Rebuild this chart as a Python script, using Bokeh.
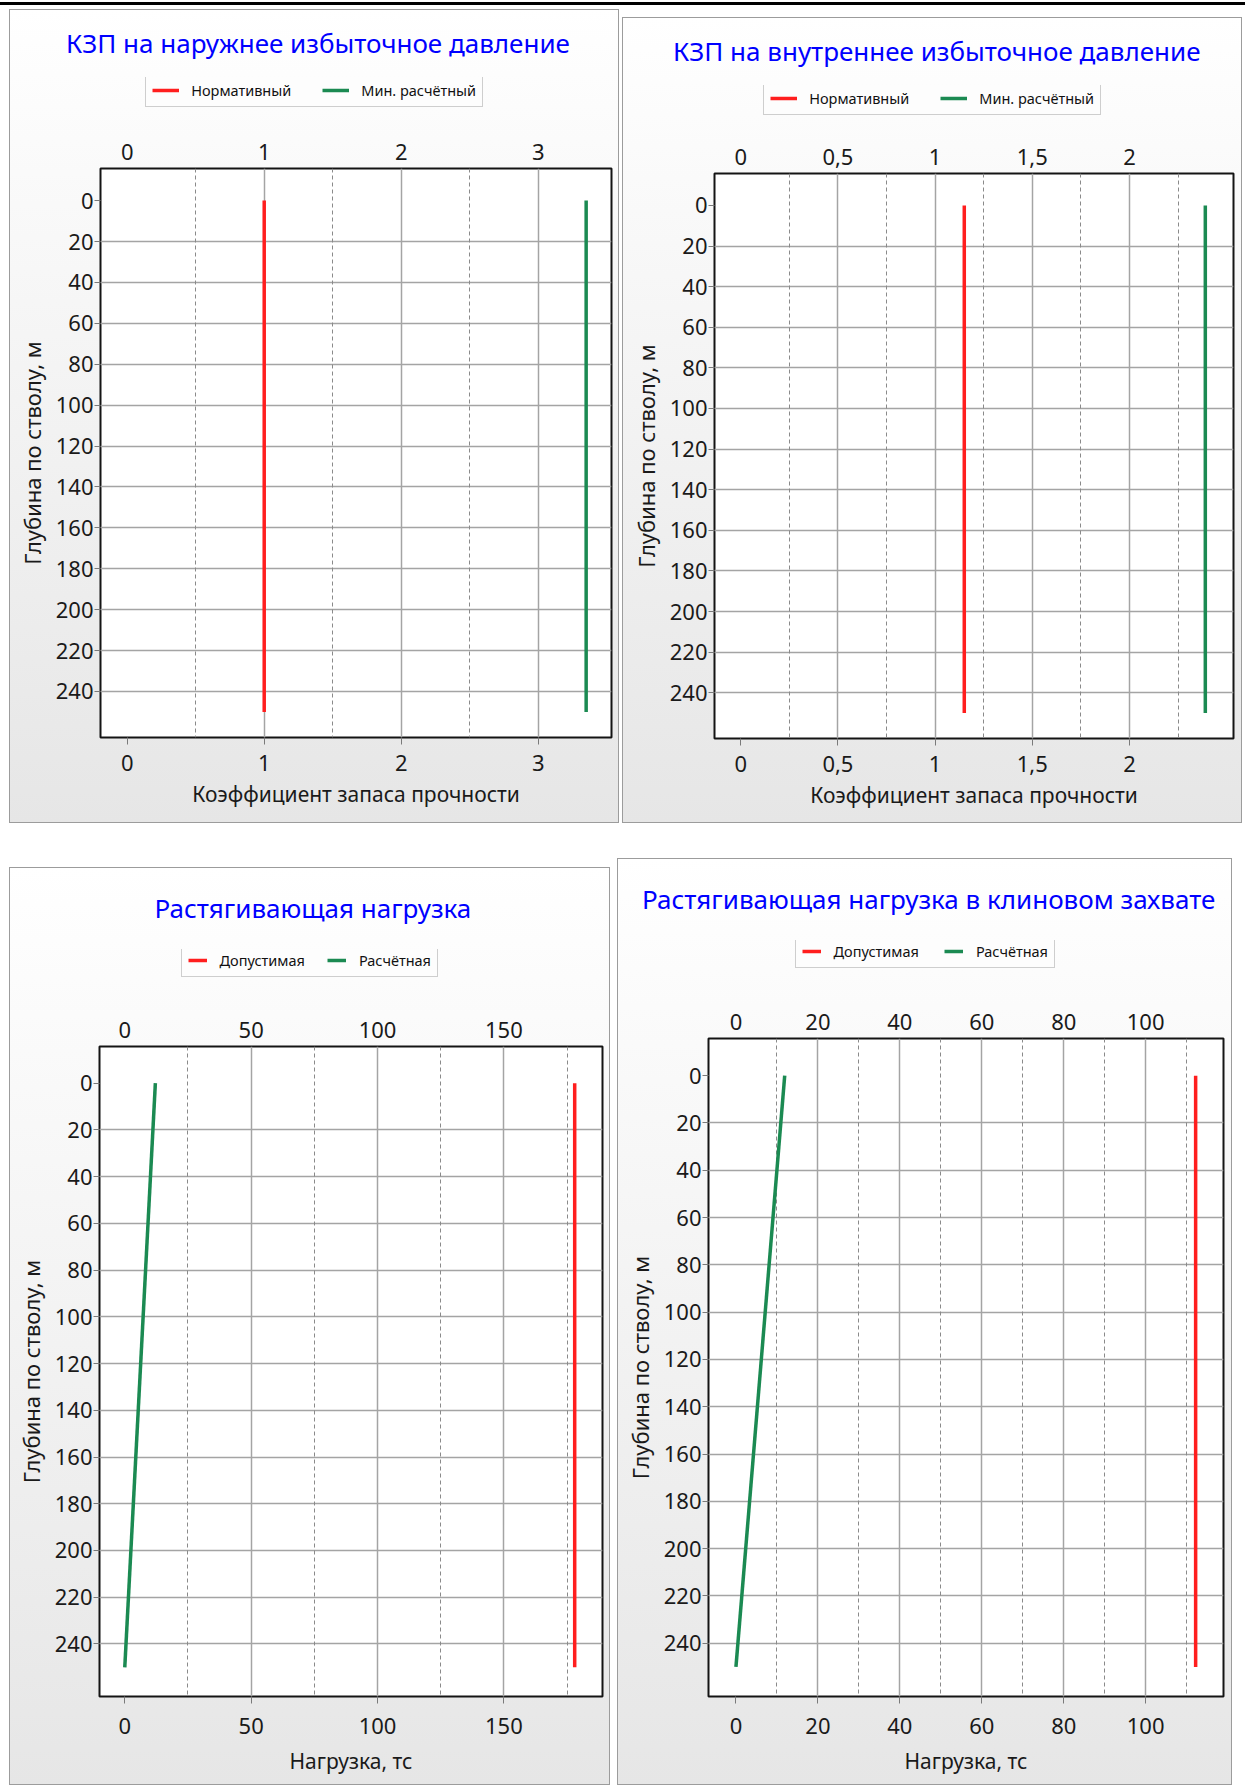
from bokeh.plotting import figure
from bokeh.models import (Range1d, LinearAxis, FixedTicker, Grid, Legend,
                          LegendItem, Title, Div)
from bokeh.layouts import row, column
from bokeh.embed import file_html
from bokeh.resources import INLINE

# ---------------- data ----------------
depth = [0, 250]                      # глубина по стволу, м
depth_ticks = [0, 20, 40, 60, 80, 100, 120, 140, 160, 180, 200, 220, 240]
y_label = "Глубина по стволу, м"

p1_title = "КЗП на наружнее избыточное давление"
p1_names = ["Нормативный", "Мин. расчётный"]
p1_norm = [1.0, 1.0]
p1_min = [3.35, 3.35]
p1_xticks = [0, 1, 2, 3]
p1_xlabel = "Коэффициент запаса прочности"

p2_title = "КЗП на внутреннее избыточное давление"
p2_names = ["Нормативный", "Мин. расчётный"]
p2_norm = [1.15, 1.15]
p2_min = [2.39, 2.39]
p2_xticks = [0, 0.5, 1, 1.5, 2]
p2_xtick_text = {0.5: "0,5", 1.5: "1,5"}
p2_xlabel = "Коэффициент запаса прочности"

p3_title = "Растягивающая нагрузка"
p3_names = ["Допустимая", "Расчётная"]
p3_allow = [178.0, 178.0]
p3_calc = [12.1, 0.0]
p3_xticks = [0, 50, 100, 150]
p3_xlabel = "Нагрузка, тс"

p4_title = "Растягивающая нагрузка в клиновом захвате"
p4_names = ["Допустимая", "Расчётная"]
p4_allow = [112.2, 112.2]
p4_calc = [11.9, 0.0]
p4_xticks = [0, 20, 40, 60, 80, 100]
p4_xlabel = "Нагрузка, тс"

# ---------------- style / layout ----------------
FONT = "Noto Sans"
RED = "#ff1e1e"
GREEN = "#1b8a52"
TXT = "#1a1a1a"
GRID_SOLID = "#a4a4a4"
GRID_DASH = "#8a8a8a"

panels = [
    dict(title=p1_title, names=p1_names, series=[p1_norm, p1_min], colors=[RED, GREEN],
         xticks=p1_xticks, xover={}, xlabel=p1_xlabel,
         xr=(-0.195, 3.535), solid=[1, 2, 3], dash=[0.5, 1.5, 2.5],
         w=610, ht=110, hm=704, ml=91, mr=8, mt=49, mb=86, margin=(4, 0, 0, 9),
         toff=-34.5, tst=30, lpos=(45.2, 12.5), gw=27, lst=12, lsp=31,
         bst=10, als=6),
    dict(title=p2_title, names=p2_names, series=[p2_norm, p2_min], colors=[RED, GREEN],
         xticks=p2_xticks, xover=p2_xtick_text, xlabel=p2_xlabel,
         xr=(-0.135, 2.535), solid=[0.5, 1, 1.5, 2], dash=[0.25, 0.75, 1.25, 1.75, 2.25],
         w=620, ht=102, hm=704, ml=92, mr=9, mt=54, mb=85, margin=(12, 0, 0, 3),
         toff=-41.5, tst=30, lpos=(49.2, 4.5), gw=27, lst=12, lsp=31,
         bst=10, als=6),
    dict(title=p3_title, names=p3_names, series=[p3_allow, p3_calc], colors=[RED, GREEN],
         xticks=p3_xticks, xover={}, xlabel=p3_xlabel,
         xr=(-10.0, 189.0), solid=[50, 100, 150], dash=[25, 75, 125, 175],
         w=601, ht=130, hm=788, ml=90, mr=8, mt=49, mb=89, margin=(44, 0, 0, 9),
         toff=54.9, tst=44, lpos=(81.5, 20), gw=19, lst=13, lsp=22,
         bst=14, als=10),
    dict(title=p4_title, names=p4_names, series=[p4_allow, p4_calc], colors=[RED, GREEN],
         xticks=p4_xticks, xover={}, xlabel=p4_xlabel,
         xr=(-6.7, 119.0), solid=[20, 40, 60, 80, 100], dash=[10, 30, 50, 70, 90, 110],
         w=615, ht=130, hm=797, ml=91, mr=9, mt=50, mb=89, margin=(35, 0, 0, 7),
         toff=-66.6, tst=44, lpos=(86.5, 20.5), gw=19, lst=13, lsp=25,
         bst=14, als=10),
]


def style_axis(ax):
    ax.axis_line_color = None
    ax.minor_tick_line_color = None
    ax.major_tick_line_color = "#7a7a7a"
    ax.major_tick_in = 0
    ax.major_label_text_font = FONT
    ax.major_label_text_font_size = "22px"
    ax.major_label_text_color = TXT
    ax.axis_label_text_font = FONT
    ax.axis_label_text_font_size = "21px"
    ax.axis_label_text_font_style = "normal"
    ax.axis_label_text_color = TXT


def make_header(c):
    """Title + legend strip; its frame spans the chart's frame columns."""
    t = figure(width=c["w"], height=c["ht"], x_range=Range1d(0, 1), y_range=Range1d(0, 1),
               x_axis_location=None, y_axis_location=None,
               output_backend="svg", toolbar_location=None,
               min_border_left=c["ml"], min_border_right=c["mr"],
               min_border_top=0, min_border_bottom=0,
               background_fill_color=None, border_fill_color=None,
               outline_line_color=None)
    t.title_location = None
    for g in t.grid:
        g.visible = False
    t.extra_y_ranges = {"off": Range1d(1000, 2000)}

    items = []
    for xs, col, name in zip(c["series"], c["colors"], c["names"]):
        r = t.line(xs, depth, y_range_name="off", line_color=col, line_width=3.5)
        items.append(LegendItem(label=name, renderers=[r]))
    leg = Legend(items=items, orientation="horizontal", location=c["lpos"],
                 margin=0, padding=6, spacing=c["lsp"], label_standoff=c["lst"],
                 glyph_width=c["gw"], glyph_height=14, label_height=14,
                 label_text_font=FONT, label_text_font_size="14.5px",
                 label_text_color="#111111",
                 border_line_color="#a0a0a0", border_line_width=1,
                 background_fill_color="#fdfdfd", background_fill_alpha=1.0)
    t.add_layout(leg)

    ttl = Title(text=c["title"], align="left", offset=c["toff"], standoff=c["tst"],
                vertical_align="top", text_font=FONT, text_font_size="26px",
                text_font_style="normal", text_color="#0000ff")
    t.add_layout(ttl, "above")
    return t


def make_chart(c):
    p = figure(width=c["w"], height=c["hm"],
               x_range=Range1d(*c["xr"]), y_range=Range1d(262.5, -15.7),
               x_axis_location="above", output_backend="svg", toolbar_location=None,
               min_border_left=c["ml"], min_border_right=c["mr"],
               min_border_top=c["mt"], min_border_bottom=c["mb"],
               background_fill_color="white", border_fill_color=None,
               outline_line_color="#141414", outline_line_width=2)
    p.title_location = None

    top = p.xaxis[0]
    bottom = LinearAxis()
    p.add_layout(bottom, "below")
    for ax in (top, bottom):
        style_axis(ax)
        ax.ticker = FixedTicker(ticks=c["xticks"], minor_ticks=[])
        if c["xover"]:
            ax.major_label_overrides = c["xover"]
    top.major_tick_out = 0
    top.major_tick_line_color = None
    top.major_label_standoff = 9
    bottom.major_tick_out = 7
    bottom.major_label_standoff = c["bst"]
    bottom.axis_label = c["xlabel"]
    bottom.axis_label_standoff = c["als"]

    ya = p.yaxis[0]
    style_axis(ya)
    ya.ticker = FixedTicker(ticks=depth_ticks, minor_ticks=[])
    ya.major_tick_out = 6
    ya.major_label_standoff = 1
    ya.axis_label = y_label
    ya.axis_label_text_font_size = "22px"
    ya.axis_label_standoff = 6

    p.xgrid.ticker = FixedTicker(ticks=c["solid"], minor_ticks=[])
    p.xgrid.grid_line_color = GRID_SOLID
    p.xgrid.grid_line_width = 1.5
    p.ygrid.ticker = FixedTicker(ticks=depth_ticks[1:], minor_ticks=[])
    p.ygrid.grid_line_color = GRID_SOLID
    p.ygrid.grid_line_width = 1.5
    dg = Grid(dimension=0, ticker=FixedTicker(ticks=c["dash"], minor_ticks=[]),
              grid_line_color=GRID_DASH, grid_line_width=1, grid_line_dash="4 3")
    p.add_layout(dg)

    for xs, col in zip(c["series"], c["colors"]):
        p.line(xs, depth, line_color=col, line_width=3.5)
    return p


def make_panel(c):
    box = column(make_header(c), make_chart(c), spacing=0)
    box.styles = {"background": "linear-gradient(to bottom, #ffffff 0%, #e6e6e6 100%)",
                  "outline": "1px solid #9c9c9c", "outline-offset": "-1px"}
    box.margin = c["margin"]
    return box


boxes = [make_panel(c) for c in panels]

bar = Div(text="", width=1245, height=3, margin=(2, 0, 0, 0),
          styles={"background-color": "#000000"})

root = column(bar,
              row(boxes[0], boxes[1], spacing=0),
              row(boxes[2], boxes[3], spacing=0), spacing=0)

open("out.html", "w").write(file_html(root, INLINE))
